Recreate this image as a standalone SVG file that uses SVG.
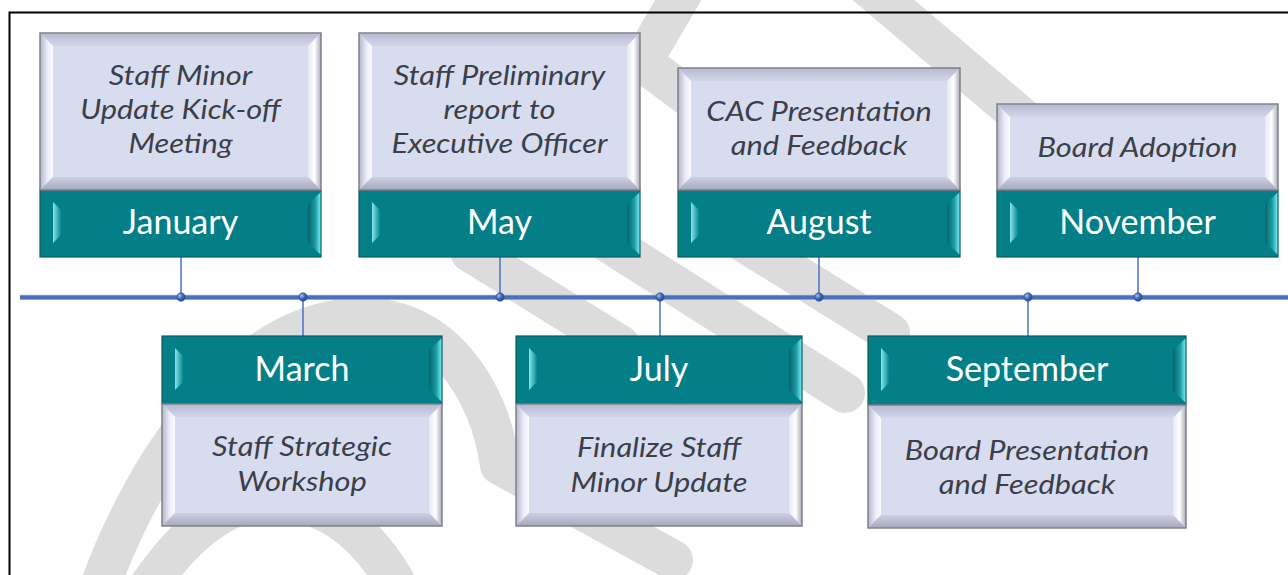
<svg xmlns="http://www.w3.org/2000/svg" width="1288" height="575" viewBox="0 0 1288 575">
<defs>
<style>
.wm{fill:none;stroke:#dcdcdc;stroke-width:40;stroke-linecap:round;stroke-linejoin:round}
.dp{fill:#d8dcef}
.db{fill:none;stroke:#7f818b;stroke-width:1.5}
.tp{fill:#047f88}
.tb{fill:none;stroke:#0a5b61;stroke-width:1.2}
.desc{font-family:Lato,'Open Sans',sans-serif;font-style:italic;font-weight:400;font-size:27px;fill:#3b3f48;text-anchor:middle}
.mon{font-family:Lato,'Open Sans',sans-serif;font-size:34px;fill:#ffffff;text-anchor:middle}
.conn{stroke:#4a72c4;stroke-width:1.5}
.dot{fill:url(#gDot);stroke:#2c4f96;stroke-width:0.6}
</style>
<linearGradient id="dL" x1="0" y1="0" x2="1" y2="0"><stop offset="0" stop-color="#b3b6c9"/><stop offset="0.6" stop-color="#eceef8"/><stop offset="1" stop-color="#fbfbff"/></linearGradient>
<linearGradient id="dR" x1="0" y1="0" x2="1" y2="0"><stop offset="0" stop-color="#e6e8f4"/><stop offset="0.5" stop-color="#ffffff"/><stop offset="1" stop-color="#a9abbd"/></linearGradient>
<linearGradient id="dT" x1="0" y1="0" x2="0" y2="1"><stop offset="0" stop-color="#b7bace"/><stop offset="1" stop-color="#d2d6ea"/></linearGradient>
<linearGradient id="dB" x1="0" y1="0" x2="0" y2="1"><stop offset="0" stop-color="#cdd0e4"/><stop offset="1" stop-color="#a6a9bc"/></linearGradient>
<linearGradient id="tL" x1="0" y1="0" x2="1" y2="0"><stop offset="0" stop-color="#86e6ec"/><stop offset="1" stop-color="#0a8790"/></linearGradient>
<linearGradient id="tR" x1="0" y1="0" x2="1" y2="0"><stop offset="0" stop-color="#04656b"/><stop offset="0.55" stop-color="#1e9aa2"/><stop offset="1" stop-color="#74f4f8"/></linearGradient>
<radialGradient id="gDot" cx="0.35" cy="0.35" r="0.7"><stop offset="0" stop-color="#a9c0f0"/><stop offset="0.5" stop-color="#4069bb"/><stop offset="1" stop-color="#23448a"/></radialGradient>
</defs>
<rect x="0" y="0" width="1288" height="575" fill="#ffffff"/>
<g id="watermark" class="wm">
<path d="M95,600 C140,470 230,330 350,318 C440,310 490,390 500,465 L673,560"/>
<path d="M140,600 C190,520 240,495 285,500 C335,505 375,540 405,600"/>
<path d="M470,252 L620,345"/>
<path d="M560,212 L845,393"/>
<path d="M700,215 L890,333"/>
<path d="M690,-20 L642,62 L700,105"/>
<path d="M860,-20 L1060,150"/>
</g>
<path id="frame" d="M9.5,575 V12.5 H1288" fill="none" stroke="#000000" stroke-width="2"/>
<g id="connectors">
<line x1="20" y1="297" x2="1288" y2="297" stroke="#4a6fbf" stroke-width="4"/>
<line x1="20" y1="295.3" x2="1288" y2="295.3" stroke="#8da3d4" stroke-width="0.8"/>
<line x1="20" y1="299.5" x2="1288" y2="299.5" stroke="#9aa3bb" stroke-width="1"/>
<line class="conn" x1="181" y1="257" x2="181" y2="297"/>
<line class="conn" x1="303" y1="297" x2="303" y2="336"/>
<line class="conn" x1="500" y1="257" x2="500" y2="297"/>
<line class="conn" x1="660" y1="297" x2="660" y2="336"/>
<line class="conn" x1="819" y1="257" x2="819" y2="297"/>
<line class="conn" x1="1028" y1="297" x2="1028" y2="336"/>
<line class="conn" x1="1138" y1="257" x2="1138" y2="297"/>
<circle class="dot" cx="181" cy="297" r="4.2"/>
<circle class="dot" cx="303" cy="297" r="4.2"/>
<circle class="dot" cx="500" cy="297" r="4.2"/>
<circle class="dot" cx="660" cy="297" r="4.2"/>
<circle class="dot" cx="819" cy="297" r="4.2"/>
<circle class="dot" cx="1028" cy="297" r="4.2"/>
<circle class="dot" cx="1138" cy="297" r="4.2"/>
</g>
<g id="node-january">
<rect class="tp" x="40" y="190" width="281" height="67"/>
<polygon fill="url(#tL)" points="53,202 61,210 61,235 53,243"/>
<polygon fill="url(#tR)" points="321,192 321,255 308,243 308,204"/>
<rect class="tb" x="40" y="190" width="281" height="67"/>
<rect class="dp" x="40" y="33" width="281" height="157"/>
<polygon fill="url(#dT)" points="40,33 321,33 308,46 53,46"/>
<polygon fill="url(#dL)" points="40,33 53,46 53,177 40,190"/>
<polygon fill="url(#dR)" points="321,33 321,190 308,177 308,46"/>
<polygon fill="url(#dB)" points="40,190 53,177 308,177 321,190"/>
<rect class="db" x="40" y="33" width="281" height="157"/>
<g transform="matrix(1.14 0 0 1 180.5 0)">
<text class="desc" x="0" y="85">Staff Minor</text>
<text class="desc" x="0" y="119">Update Kick-off</text>
<text class="desc" x="0" y="153">Meeting</text>
</g>
<text class="mon" x="180.5" y="234">January</text>
</g>
<g id="node-may">
<rect class="tp" x="359" y="190" width="281" height="67"/>
<polygon fill="url(#tL)" points="372,202 380,210 380,235 372,243"/>
<polygon fill="url(#tR)" points="640,192 640,255 627,243 627,204"/>
<rect class="tb" x="359" y="190" width="281" height="67"/>
<rect class="dp" x="359" y="33" width="281" height="157"/>
<polygon fill="url(#dT)" points="359,33 640,33 627,46 372,46"/>
<polygon fill="url(#dL)" points="359,33 372,46 372,177 359,190"/>
<polygon fill="url(#dR)" points="640,33 640,190 627,177 627,46"/>
<polygon fill="url(#dB)" points="359,190 372,177 627,177 640,190"/>
<rect class="db" x="359" y="33" width="281" height="157"/>
<g transform="matrix(1.14 0 0 1 499.5 0)">
<text class="desc" x="0" y="85">Staff Preliminary</text>
<text class="desc" x="0" y="119">report to</text>
<text class="desc" x="0" y="153">Executive Officer</text>
</g>
<text class="mon" x="499.5" y="234">May</text>
</g>
<g id="node-august">
<rect class="tp" x="678" y="190" width="282" height="67"/>
<polygon fill="url(#tL)" points="691,202 699,210 699,235 691,243"/>
<polygon fill="url(#tR)" points="960,192 960,255 947,243 947,204"/>
<rect class="tb" x="678" y="190" width="282" height="67"/>
<rect class="dp" x="678" y="68" width="282" height="122"/>
<polygon fill="url(#dT)" points="678,68 960,68 947,81 691,81"/>
<polygon fill="url(#dL)" points="678,68 691,81 691,177 678,190"/>
<polygon fill="url(#dR)" points="960,68 960,190 947,177 947,81"/>
<polygon fill="url(#dB)" points="678,190 691,177 947,177 960,190"/>
<rect class="db" x="678" y="68" width="282" height="122"/>
<g transform="matrix(1.14 0 0 1 819 0)">
<text class="desc" x="0" y="121">CAC Presentation</text>
<text class="desc" x="0" y="155">and Feedback</text>
</g>
<text class="mon" x="819" y="234">August</text>
</g>
<g id="node-november">
<rect class="tp" x="997" y="190" width="281" height="67"/>
<polygon fill="url(#tL)" points="1010,202 1018,210 1018,235 1010,243"/>
<polygon fill="url(#tR)" points="1278,192 1278,255 1265,243 1265,204"/>
<rect class="tb" x="997" y="190" width="281" height="67"/>
<rect class="dp" x="997" y="104" width="281" height="86"/>
<polygon fill="url(#dT)" points="997,104 1278,104 1265,117 1010,117"/>
<polygon fill="url(#dL)" points="997,104 1010,117 1010,177 997,190"/>
<polygon fill="url(#dR)" points="1278,104 1278,190 1265,177 1265,117"/>
<polygon fill="url(#dB)" points="997,190 1010,177 1265,177 1278,190"/>
<rect class="db" x="997" y="104" width="281" height="86"/>
<g transform="matrix(1.14 0 0 1 1137.5 0)">
<text class="desc" x="0" y="157">Board Adoption</text>
</g>
<text class="mon" x="1137.5" y="234">November</text>
</g>
<g id="node-march">
<rect class="tp" x="162" y="336" width="280" height="68"/>
<polygon fill="url(#tL)" points="175,348 183,356 183,382 175,390"/>
<polygon fill="url(#tR)" points="442,338 442,402 429,390 429,350"/>
<rect class="tb" x="162" y="336" width="280" height="68"/>
<rect class="dp" x="162" y="404" width="280" height="122"/>
<polygon fill="url(#dT)" points="162,404 442,404 429,417 175,417"/>
<polygon fill="url(#dL)" points="162,404 175,417 175,513 162,526"/>
<polygon fill="url(#dR)" points="442,404 442,526 429,513 429,417"/>
<polygon fill="url(#dB)" points="162,526 175,513 429,513 442,526"/>
<rect class="db" x="162" y="404" width="280" height="122"/>
<text class="mon" x="302" y="381">March</text>
<g transform="matrix(1.14 0 0 1 302 0)">
<text class="desc" x="0" y="456">Staff Strategic</text>
<text class="desc" x="0" y="491">Workshop</text>
</g>
</g>
<g id="node-july">
<rect class="tp" x="516" y="336" width="286" height="68"/>
<polygon fill="url(#tL)" points="529,348 537,356 537,382 529,390"/>
<polygon fill="url(#tR)" points="802,338 802,402 789,390 789,350"/>
<rect class="tb" x="516" y="336" width="286" height="68"/>
<rect class="dp" x="516" y="404" width="286" height="122"/>
<polygon fill="url(#dT)" points="516,404 802,404 789,417 529,417"/>
<polygon fill="url(#dL)" points="516,404 529,417 529,513 516,526"/>
<polygon fill="url(#dR)" points="802,404 802,526 789,513 789,417"/>
<polygon fill="url(#dB)" points="516,526 529,513 789,513 802,526"/>
<rect class="db" x="516" y="404" width="286" height="122"/>
<text class="mon" x="659" y="381">July</text>
<g transform="matrix(1.14 0 0 1 659 0)">
<text class="desc" x="0" y="457">Finalize Staff</text>
<text class="desc" x="0" y="492">Minor Update</text>
</g>
</g>
<g id="node-september">
<rect class="tp" x="868" y="336" width="318" height="69"/>
<polygon fill="url(#tL)" points="881,348 889,356 889,383 881,391"/>
<polygon fill="url(#tR)" points="1186,338 1186,403 1173,391 1173,350"/>
<rect class="tb" x="868" y="336" width="318" height="69"/>
<rect class="dp" x="868" y="405" width="318" height="123"/>
<polygon fill="url(#dT)" points="868,405 1186,405 1173,418 881,418"/>
<polygon fill="url(#dL)" points="868,405 881,418 881,515 868,528"/>
<polygon fill="url(#dR)" points="1186,405 1186,528 1173,515 1173,418"/>
<polygon fill="url(#dB)" points="868,528 881,515 1173,515 1186,528"/>
<rect class="db" x="868" y="405" width="318" height="123"/>
<text class="mon" x="1027" y="381">September</text>
<g transform="matrix(1.14 0 0 1 1027 0)">
<text class="desc" x="0" y="460">Board Presentation</text>
<text class="desc" x="0" y="494">and Feedback</text>
</g>
</g>
</svg>
